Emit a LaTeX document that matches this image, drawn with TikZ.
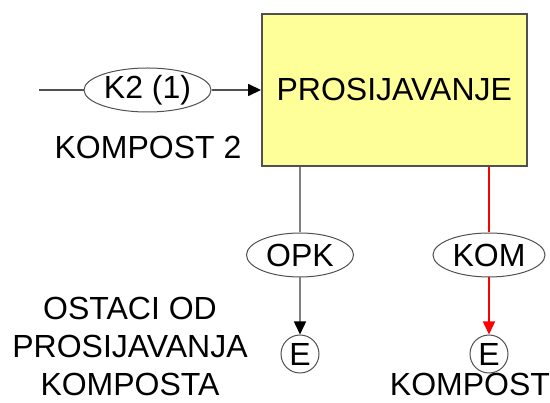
\documentclass[tikz,border=0pt]{standalone}
\usepackage{fontspec}
\setmainfont{Liberation Sans}
\usepackage{tikz}
\usetikzlibrary{arrows.meta,shapes.geometric,positioning}
\definecolor{boxfill}{RGB}{255,255,153}
\definecolor{boxline}{RGB}{80,80,80}
\definecolor{flowgray}{RGB}{128,128,128}

\begin{document}
\begin{tikzpicture}[
  x=1pt,y=-1pt,
  font=\fontsize{32}{38}\selectfont,
  process/.style={draw=boxline,fill=boxfill,line width=1.5pt,
                  minimum width=265pt,minimum height=152pt,inner sep=0pt},
  tag/.style={ellipse,draw=boxline,line width=1pt,fill=white,
              minimum height=44pt,inner sep=0pt},
  sink/.style={circle,draw=boxline,line width=1pt,
               minimum size=38pt,inner sep=0pt},
  lbl/.style={align=center,inner sep=0pt},
  arr/.style={-{Triangle[length=13pt,width=12pt,color=black]},line width=1.5pt},
  redarr/.style={-{Triangle[length=13pt,width=12pt]},line width=1.5pt,red},
]
  \useasboundingbox (0,0) rectangle (550,403);

  \node[process] (sieve) at (394.3,89.8) {PROSIJAVANJE};
  \coordinate (in) at (39,90);
  \node[tag,minimum width=127pt] (k2) at (147.5,90) {K2 (1)};
  \node[lbl] (k2lbl) at (148,147) {KOMPOST 2};

  \node[tag,minimum width=107pt] (opk) at (300,255) {OPK};
  \node[tag,minimum width=112pt] (kom) at (489,255) {KOM};
  \node[sink] (e1) at (300,354) {E};
  \node[sink] (e2) at (489,354) {E};

  \node[lbl,anchor=base] (opklbl) at (130,396)
    {OSTACI OD\\PROSIJAVANJA\\KOMPOSTA};
  \node[lbl,anchor=base] (komlbl) at (470,396) {KOMPOST};

  \draw[line width=1.5pt,boxline] (in) -- (k2);
  \draw[arr,boxline] (k2) -- (sieve.west |- k2);
  \draw[line width=1.5pt,flowgray] (opk |- sieve.south) -- (opk);
  \draw[arr,flowgray] (opk) -- (e1);
  \draw[line width=1.5pt,red] (kom |- sieve.south) -- (kom);
  \draw[redarr] (kom) -- (e2);
\end{tikzpicture}
\end{document}
